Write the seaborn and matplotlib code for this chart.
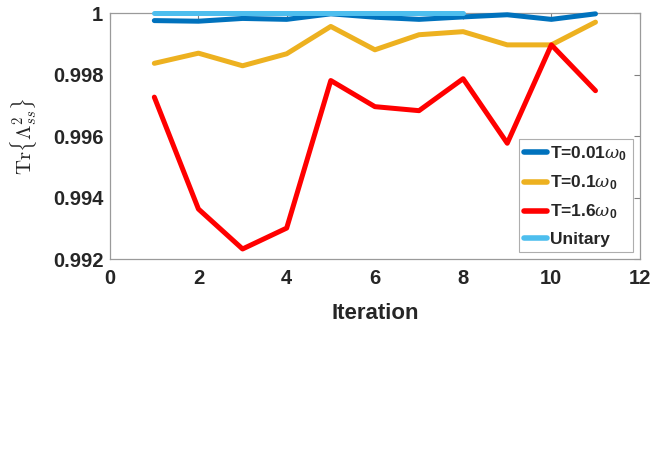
import numpy as np
import matplotlib
matplotlib.use('Agg')
import matplotlib.pyplot as plt
import pandas as pd
import seaborn as sns

iteration = [1, 2, 3, 4, 5, 6, 7, 8, 9, 10, 11]
t_001 = [0.99976, 0.99974, 0.99983, 0.99980, 0.99998, 0.99987, 0.99980, 0.99988, 0.99995, 0.99980, 0.99998]
t_01 = [0.99837, 0.99870, 0.99829, 0.99868, 0.99957, 0.99881, 0.99930, 0.99940, 0.99897, 0.99897, 0.99971]
t_16 = [0.99727, 0.99363, 0.99233, 0.99301, 0.99781, 0.99696, 0.99683, 0.99787, 0.99577, 0.99897, 0.99748]
unitary_iter = [1, 2, 3, 4, 5, 6, 7, 8]
unitary = [1.0, 1.0, 1.0, 1.0, 1.0, 1.0, 1.0, 1.0]

labels = [r'T=0.01$\omega_{\mathrm{0}}$', r'T=0.1$\omega_{\mathrm{0}}$', r'T=1.6$\omega_{\mathrm{0}}$', 'Unitary']
colors = ['#0072BD', '#EDB120', '#FF0000', '#4DBEEE']

frames = []
for lab, ys in zip(labels[:3], [t_001, t_01, t_16]):
    frames.append(pd.DataFrame({'it': iteration, 'val': ys, 'series': lab}))
frames.append(pd.DataFrame({'it': unitary_iter, 'val': unitary, 'series': labels[3]}))
df = pd.concat(frames, ignore_index=True)

sns.set_style('white')
plt.rcParams['font.family'] = ['Liberation Sans', 'DejaVu Sans']
plt.rcParams['font.weight'] = 'bold'
# legend math: sans bold subscripts, light italic omega
plt.rcParams['mathtext.fontset'] = 'custom'
plt.rcParams['mathtext.rm'] = 'Liberation Sans:bold'
plt.rcParams['mathtext.bf'] = 'Liberation Sans:bold'
plt.rcParams['mathtext.it'] = 'DejaVu Serif:italic:normal'

fig = plt.figure(figsize=(6.56, 4.72), dpi=100)
ax = fig.add_axes([0.168, 0.451, 0.807, 0.521])
sns.lineplot(data=df, x='it', y='val', hue='series', hue_order=labels,
             palette=colors, linewidth=3.6, ax=ax, clip_on=False, zorder=3)

ax.set_xlim(0, 12)
ax.set_ylim(0.992, 1.0)
ax.set_xticks([0, 2, 4, 6, 8, 10, 12])
ax.set_yticks([0.992, 0.994, 0.996, 0.998, 1.0])
ax.set_yticklabels(['0.992', '0.994', '0.996', '0.998', '1'])
ax.tick_params(direction='in', length=4, color='#808080', labelsize=14.5,
               width=0.8, top=True, right=True)
ax.tick_params(axis='x', pad=7)
ax.tick_params(axis='y', pad=5)
for lbl in ax.get_xticklabels() + ax.get_yticklabels():
    lbl.set_fontweight('bold')
    lbl.set_color('#262626')
for s in ax.spines.values():
    s.set_color('#9a9a9a')
    s.set_linewidth(0.9)

ax.set_xlabel('Iteration', fontsize=16, fontweight='bold', color='#262626', labelpad=11)
ax.set_ylabel(r'$\mathrm{Tr}\{\Lambda_{ss}^2\}$', fontsize=15, color='#262626',
              labelpad=10, math_fontfamily='cm')

leg = ax.legend(loc='lower right', fontsize=12.5, frameon=True, fancybox=False,
                edgecolor='#9a9a9a', handlelength=1.3, handletextpad=0.2,
                borderpad=0.3, labelspacing=0.6, borderaxespad=0.4,
                bbox_to_anchor=(1.0, 0.0))
leg.get_frame().set_linewidth(0.8)
leg.set_zorder(2)
for t in leg.get_texts():
    t.set_fontweight('bold')
for h in leg.get_lines():
    h.set_linewidth(4)

fig.savefig('out.png', dpi=100, facecolor='white')
